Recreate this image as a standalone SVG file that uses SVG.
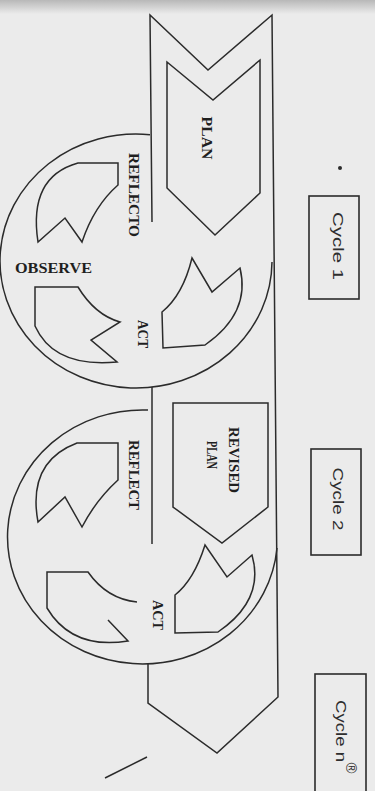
<svg xmlns="http://www.w3.org/2000/svg" width="375" height="791" viewBox="0 0 375 791">
<defs>
<linearGradient id="topShade" x1="0" y1="0" x2="0" y2="1">
<stop offset="0" stop-color="#b8b8b8"/>
<stop offset="1" stop-color="#ebebeb"/>
</linearGradient>
<style>
.ln{fill:none;stroke:#2b2b2b;stroke-width:1.5;stroke-linejoin:miter;stroke-linecap:butt}
.lbl{font-family:"Liberation Serif","DejaVu Serif",serif;font-weight:bold;font-size:15px;fill:#1f1f1f}
.cyc{font-family:"Liberation Sans","DejaVu Sans",sans-serif;font-size:15px;fill:#2e2e2e}
.box{fill:none;stroke:#2b2b2b;stroke-width:1.6}
</style>
</defs>
<rect width="375" height="791" fill="#ebebeb"/>
<rect width="375" height="14" fill="url(#topShade)"/>

<g id="band">
<path class="ln" d="M152,222 L150,15 L208,70 L272,15 L278,697 L217,753 L148,703 L148,663"/>
<path class="ln" d="M152,387 L152,544"/>
</g>

<g id="plan">
<path class="ln" d="M167,62 L213,100 L260,60 L260,193 L215,235 L167,188 Z"/>
<text class="lbl" x="207" y="138" transform="rotate(90 207 138)" text-anchor="middle" dominant-baseline="central" textLength="43" lengthAdjust="spacingAndGlyphs">PLAN</text>
</g>

<g id="cycle1-circle">
<path class="ln" d="M150,134.7 A136 127 0 1 0 272,262"/>
<path class="ln" d="M78,163 L118,163 L118,185 Q94,206 82,242 L65,218 L38,242 Q28,177 78,163 Z"/>
<path class="ln" d="M35,287 L78,287 Q95,315 120,322 L91,340 L117,362 Q54,368 35,326 Z"/>
<path class="ln" d="M192,258 L212,292 L240,268 Q251,313 205,345 L163,348 L162,312 Q183,295 192,258 Z"/>
<text class="lbl" x="134" y="195" transform="rotate(90 134 195)" text-anchor="middle" dominant-baseline="central" textLength="84" lengthAdjust="spacingAndGlyphs">REFLECTO</text>
<text class="lbl" x="53.5" y="273" text-anchor="middle" textLength="77" lengthAdjust="spacingAndGlyphs">OBSERVE</text>
<text class="lbl" x="143" y="334" transform="rotate(90 143 334)" text-anchor="middle" dominant-baseline="central" textLength="28" lengthAdjust="spacingAndGlyphs">ACT</text>
</g>

<g id="revised-plan">
<path class="ln" d="M173,403 L268,403 L268,507 L222,543 L173,507 Z"/>
<text class="lbl" x="234" y="460" transform="rotate(90 234 460)" text-anchor="middle" dominant-baseline="central" textLength="66" lengthAdjust="spacingAndGlyphs">REVISED</text>
<text class="lbl" x="212" y="455" transform="rotate(90 212 455)" text-anchor="middle" dominant-baseline="central" textLength="28" lengthAdjust="spacingAndGlyphs">PLAN</text>
</g>

<g id="cycle2-circle">
<path class="ln" d="M148,410 A135 127 0 1 0 277,548"/>
<path class="ln" d="M77,443 L118,443 L118,480 Q96,500 82,527 L65,497 L38,522 Q27,462 77,443 Z"/>
<path class="ln" d="M108,620 L128,641 Q72,650 47,608 L47,572 L88,572 Q107,599 137,602"/>
<path class="ln" d="M205,545 L227,577 L252,555 Q265,600 218,632 L175,633 L175,595 Q194,580 205,545 Z"/>
<text class="lbl" x="134" y="475" transform="rotate(90 134 475)" text-anchor="middle" dominant-baseline="central" textLength="70" lengthAdjust="spacingAndGlyphs">REFLECT</text>
<text class="lbl" x="158" y="615" transform="rotate(90 158 615)" text-anchor="middle" dominant-baseline="central" textLength="30" lengthAdjust="spacingAndGlyphs">ACT</text>
</g>

<g id="cycle1">
<rect class="box" x="309" y="196" width="50" height="103"/>
<text class="cyc" x="338" y="246" transform="rotate(90 338 246)" text-anchor="middle" dominant-baseline="central" textLength="68" lengthAdjust="spacingAndGlyphs">Cycle 1</text>
</g>

<g id="cycle2">
<rect class="box" x="311" y="449" width="50" height="106"/>
<text class="cyc" x="338" y="499" transform="rotate(90 338 499)" text-anchor="middle" dominant-baseline="central" textLength="63" lengthAdjust="spacingAndGlyphs">Cycle 2</text>
</g>

<g id="cyclen">
<rect class="box" x="315" y="674" width="51" height="130"/>
<text class="cyc" x="341" y="731" transform="rotate(90 341 731)" text-anchor="middle" dominant-baseline="central" textLength="62" lengthAdjust="spacingAndGlyphs">Cycle n</text>
<text class="cyc" x="351" y="768" transform="rotate(90 351 768)" text-anchor="middle" dominant-baseline="central" font-size="9">®</text>
</g>

<g id="connectors">
<circle cx="340" cy="168" r="2" fill="#2b2b2b"/>
<path class="ln" d="M105,778 L147,757"/>
</g>
</svg>
